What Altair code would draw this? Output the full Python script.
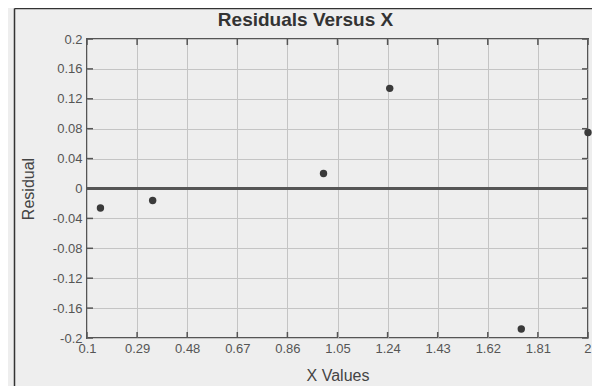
import altair as alt
import pandas as pd

# ---- data ----
chart_title = ["Residuals Versus X"]
x_values = [0.151, 0.349, 0.997, 1.248, 1.747, 2.0]
residuals = [-0.026, -0.016, 0.020, 0.134, -0.188, 0.075]
x_ticks = [0.1, 0.29, 0.48, 0.67, 0.86, 1.05, 1.24, 1.43, 1.62, 1.81, 2]
y_ticks = [-0.2, -0.16, -0.12, -0.08, -0.04, 0, 0.04, 0.08, 0.12, 0.16, 0.2]
zero_line = [0]

W, H = 501, 299
BG = "#eeeeee"
FONT = "Liberation Sans"

pts = pd.DataFrame({"x": x_values, "r": residuals})
xt = pd.DataFrame({"x": x_ticks})
yt = pd.DataFrame({"y": y_ticks})
zl = pd.DataFrame({"y": zero_line})
tt = pd.DataFrame({"t": chart_title})

xscale = alt.Scale(domain=[0.1, 2.0], nice=False, zero=False)
yscale = alt.Scale(domain=[-0.2, 0.2], nice=False, zero=False)

x_axis = alt.Axis(
    values=x_ticks, labelExpr="'' + datum.value", title="X Values",
    grid=True, gridColor="#c4c4c4", gridWidth=1, ticks=False, domain=False,
    labelFont=FONT, labelFontSize=13, labelColor="#555555", labelPadding=4,
    labelFlush=False, labelOverlap=False,
    labelAlign={"condition": {"test": "datum.value == 2", "value": "right"}, "value": "center"},
    labelOffset={"condition": {"test": "datum.value == 2", "value": 3}, "value": 0},
    titleFont=FONT, titleFontSize=16, titleFontWeight="normal", titleColor="#444444",
    titleX=W / 2, titleY=42, titleBaseline="alphabetic", titleAnchor="middle",
)
y_axis = alt.Axis(
    values=y_ticks, labelExpr="'' + datum.value", title="Residual",
    grid=True, gridColor="#c4c4c4", gridWidth=1, ticks=False, domain=False,
    labelFont=FONT, labelFontSize=13, labelColor="#555555", labelPadding=5,
    labelFlush=False, labelOverlap=False,
    titleFont=FONT, titleFontSize=16, titleFontWeight="normal", titleColor="#444444",
    titleX=-54, titleY=H / 2, titleBaseline="alphabetic", titleAngle=-90, titleAlign="center",
)

X = lambda: alt.X("x:Q", scale=xscale, axis=x_axis, title="X Values")
Y = lambda f: alt.Y(f, scale=yscale, axis=y_axis, title="Residual")

points = alt.Chart(pts).mark_circle(size=55, color="#3a3a3a", opacity=1).encode(
    x=X(), y=Y("r:Q"),
)

zero = alt.Chart(zl).mark_rule(color="#555555", strokeWidth=3).encode(y=Y("y:Q"))

tick_color = "#555555"
top_ticks = alt.Chart(xt).mark_rule(color=tick_color, strokeWidth=1.5).encode(
    x=X(), y=alt.value(0), y2=alt.value(6)
)
bottom_ticks = alt.Chart(xt).mark_rule(color=tick_color, strokeWidth=1.5).encode(
    x=X(), y=alt.value(H - 6), y2=alt.value(H)
)
left_ticks = alt.Chart(yt).mark_rule(color=tick_color, strokeWidth=1.5).encode(
    y=Y("y:Q"), x=alt.value(0), x2=alt.value(6)
)
right_ticks = alt.Chart(yt).mark_rule(color=tick_color, strokeWidth=1.5).encode(
    y=Y("y:Q"), x=alt.value(W - 6), x2=alt.value(W)
)

frame_data = alt.Data(values=[{"k": 1}])
frame_left = alt.Chart(frame_data).mark_rule(color="#333333", strokeWidth=1.5).encode(
    x=alt.value(-72.5), y=alt.value(-30.5), y2=alt.value(H + 60)
)
frame_top = alt.Chart(frame_data).mark_rule(color="#333333", strokeWidth=1.5).encode(
    x=alt.value(-72.5), x2=alt.value(W + 8), y=alt.value(-30.5)
)

title = alt.Chart(tt).mark_text(
    font=FONT, fontSize=19, fontWeight="bold", color="#333333",
    align="center", baseline="alphabetic",
).encode(text="t:N", x=alt.value(W / 2 - 32), y=alt.value(-13))

chart = alt.layer(
    points, zero, top_ticks, bottom_ticks, left_ticks, right_ticks,
    frame_left, frame_top, title,
).properties(
    width=W, height=H,
    autosize=alt.AutoSizeParams(type="none"),
    padding={"left": 79, "top": 31, "right": 4, "bottom": 48},
    background=BG,
).configure_view(
    stroke="#555555", strokeWidth=2, fill=BG
)

chart.save("out.html", embed_options={"renderer": "svg", "actions": False})
